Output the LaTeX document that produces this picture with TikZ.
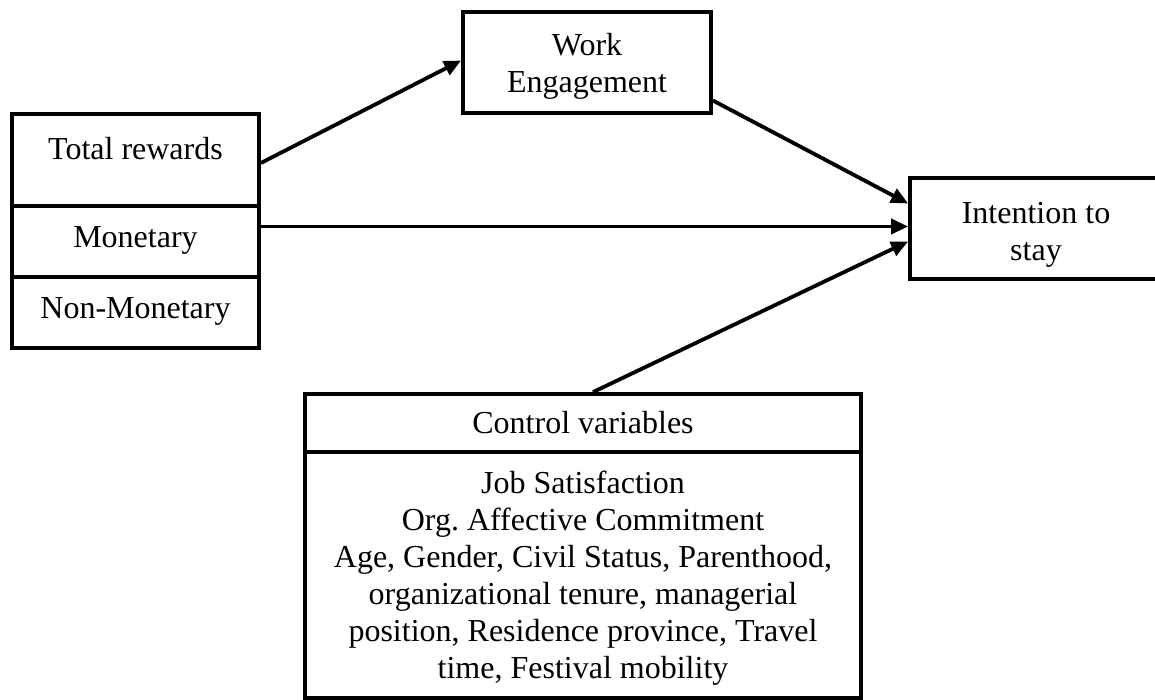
\documentclass[tikz,border=0pt]{standalone}
\usepackage{fontspec}
\setmainfont{Liberation Serif}
\usetikzlibrary{arrows.meta,calc}
\begin{document}
\begin{tikzpicture}[x=1pt,y=-1pt,
  box/.style={draw, line width=3.8pt, rectangle, inner sep=0pt},
  lbl/.style={anchor=base, inner sep=0pt, font=\fontsize{32}{37}\selectfont},
  arr/.style={line width=3.8pt, -{Triangle[length=17pt,width=15pt]}}]
\useasboundingbox (0,0) rectangle (1155,699);
% left stacked box
\node[box, minimum width=247pt, minimum height=92pt] (tr) at (135.5,160) {};
\node[box, minimum width=247pt, minimum height=71pt] (mon) at (135.5,241.5) {};
\node[box, minimum width=247pt, minimum height=71pt] (nonmon) at (135.5,312.5) {};
\node[lbl] (ttr) at (135.5,159) {Total rewards};
\node[lbl] (tmon) at (135.5,247) {Monetary};
\node[lbl] (tnon) at (135.5,318) {Non-Monetary};
% work engagement
\node[box, minimum width=248pt, minimum height=101pt] (we) at (587,62.5) {};
\node[lbl] (twe1) at (587,55) {Work};
\node[lbl] (twe2) at (587,92) {Engagement};
% intention to stay
\node[box, minimum width=252pt, minimum height=101pt] (int) at (1036,228.5) {};
\node[lbl] (tint1) at (1036,223) {Intention to};
\node[lbl] (tint2) at (1036,260) {stay};
% control variables
\node[box, minimum width=556pt, minimum height=58pt] (cvh) at (583,423) {};
\node[box, minimum width=556pt, minimum height=246pt] (cvb) at (583,575) {};
\node[lbl] (tcv) at (583,433) {Control variables};
\node[lbl] (c1) at (583,493) {Job Satisfaction};
\node[lbl] (c2) at (583,530) {Org.\ Affective Commitment};
\node[lbl] (c3) at (583,567) {Age, Gender, Civil Status, Parenthood,};
\node[lbl] (c4) at (583,604) {organizational tenure, managerial};
\node[lbl] (c5) at (583,641) {position, Residence province, Travel};
\node[lbl] (c6) at (583,678) {time, Festival mobility};
% connectors
\coordinate (m1) at ([yshift=15pt]mon.east);
\draw[arr] ([yshift=-3pt]tr.east) -- ([yshift=2pt]we.west);
\draw[arr] ([yshift=-38pt]we.east) -- ([yshift=25pt]int.west);
\draw[arr] (m1) -- (m1 -| int.west);
\draw[arr] ([xshift=10pt]cvh.north) -- ([yshift=-13pt]int.west);
\end{tikzpicture}
\end{document}
